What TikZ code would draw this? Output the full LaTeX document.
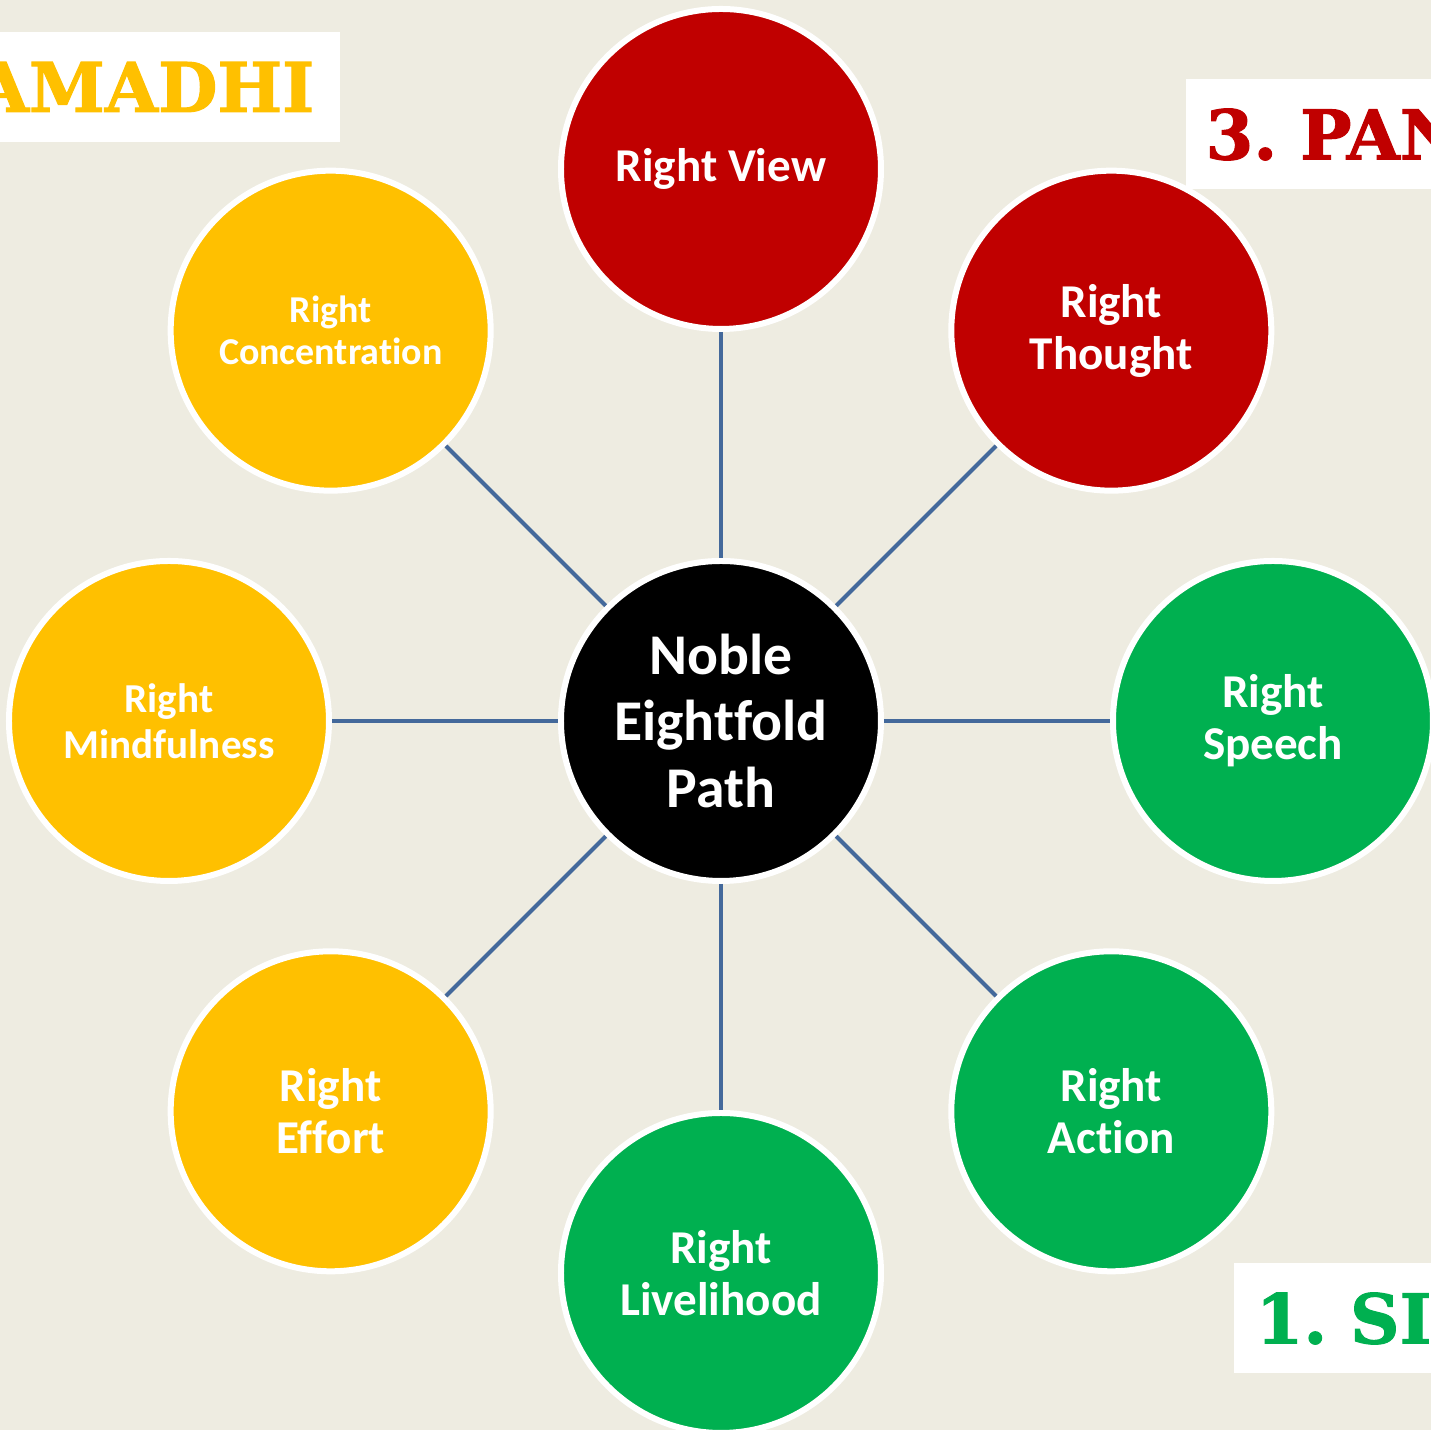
\documentclass[tikz,border=0pt]{standalone}
\usepackage{fontspec}
\setmainfont{Carlito}[Ligatures=NoCommon]
\newfontfamily\titlefont{DejaVu Serif Bold}[FakeBold=1.5]
\frenchspacing
\definecolor{bgtan}{RGB}{238,236,225}
\definecolor{linkblue}{RGB}{68,105,155}
\definecolor{panna}{RGB}{192,0,0}
\definecolor{sila}{RGB}{0,176,80}
\definecolor{samadhi}{RGB}{255,192,0}
\begin{document}
\begin{tikzpicture}[
part/.style={circle, draw=white, line width=0.6mm, minimum size=3.2cm, inner sep=0pt,
  text=white, align=center, font=\bfseries\fontsize{13.4}{14.8}\selectfont},
link/.style={draw=linkblue, line width=0.4mm},
title/.style={fill=white, minimum height=1.1cm, inner ysep=0pt, text width=4cm,
  font=\titlefont\fontsize{19.5}{22}\selectfont}]
\useasboundingbox (-7.21,-7.09) rectangle (7.10,7.21);
\clip (-7.21,-7.09) rectangle (7.10,7.21);
\fill[bgtan] (-7.21,-7.09) rectangle (7.10,7.21);
% the three groups
\node[title, text=samadhi, anchor=east, align=right, inner xsep=0.26cm] (samadhititle) at (-3.80,6.34) {AMADHI};
\node[title, text=panna, anchor=west, align=left, inner xsep=0.2cm] (pannatitle) at (4.64,5.865) {3. PAN};
\node[title, text=sila, anchor=west, align=left, inner xsep=0.22cm] (silatitle) at (5.12,-5.975) {1. SI};
% hub and spokes
\node[part, fill=black, font=\bfseries\fontsize{16.4}{18.8}\selectfont] (path) at (0,0) {Noble\\Eightfold\\Path};
\node[part, fill=panna] (view) at (90:5.52) {Right View};
\node[part, fill=panna] (thought) at (45:5.52) {Right\\Thought};
\node[part, fill=sila] (speech) at (0:5.52) {Right\\Speech};
\node[part, fill=sila] (action) at (-45:5.52) {Right\\Action};
\node[part, fill=sila] (livelihood) at (-90:5.52) {Right\\Livelihood};
\node[part, fill=samadhi] (effort) at (-135:5.52) {Right\\Effort};
\node[part, fill=samadhi, font=\bfseries\fontsize{11.7}{13.1}\selectfont] (mindfulness) at (180:5.52) {Right\\Mindfulness};
\node[part, fill=samadhi, font=\bfseries\fontsize{10.8}{11.9}\selectfont] (concentration) at (135:5.52) {Right\\Concentration};
\draw[link] (path) -- (view);
\draw[link] (path) -- (thought);
\draw[link] (path) -- (speech);
\draw[link] (path) -- (action);
\draw[link] (path) -- (livelihood);
\draw[link] (path) -- (effort);
\draw[link] (path) -- (mindfulness);
\draw[link] (path) -- (concentration);
\end{tikzpicture}
\end{document}
